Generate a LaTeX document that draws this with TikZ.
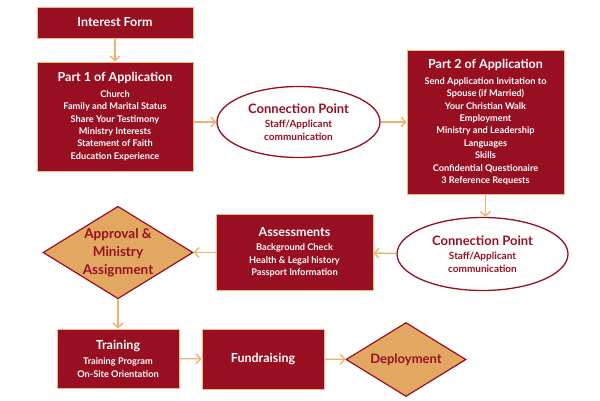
\documentclass[tikz,border=0pt]{standalone}
\usepackage{fontspec}
\setmainfont{Lato}
\usepackage{tikz}
\usetikzlibrary{arrows.meta,shapes.geometric}

\definecolor{appred}{HTML}{990F22}
\definecolor{apprim}{HTML}{F2B77E}
\definecolor{apptan}{HTML}{E2A862}
\definecolor{apparrow}{HTML}{ECB36C}
\newcommand{\boxtitle}[1]{{\fontsize{12.5}{14}\selectfont #1}}

\begin{document}
\begin{tikzpicture}[-,>={Straight Barb[length=4.5pt,width=10pt]},x=1pt,y=-1pt,
  main node/.style={rectangle,fill=appred,draw=apprim,line width=1pt,text=white,
    align=center,inner sep=0pt,font=\bfseries\fontsize{9.2}{12.4}\selectfont},
  link node/.style={ellipse,fill=white,draw=appred,line width=1.3pt,text=appred,
    align=center,inner sep=0pt,font=\bfseries\fontsize{10}{12.7}\selectfont},
  gate node/.style={diamond,aspect=1.6,fill=apptan,draw=appred,line width=1.2pt,text=appred,
    align=center,inner sep=0pt,font=\bfseries\fontsize{13.5}{18}\selectfont}]

  \useasboundingbox (0,0) rectangle (600,400);

  \node[main node,minimum width=156pt,minimum height=31pt] (intro) at (115,22.5)
    {\boxtitle{Interest Form}};
  \node[main node,minimum width=156pt,minimum height=109pt] (part1) at (115,116.5)
    {\boxtitle{Part 1 of Application}\\[3.5pt] Church\\ Family and Marital Status\\
     Share Your Testimony\\ Ministry Interests\\ Statement of Faith\\ Education Experience};
  \node[link node,minimum width=163pt,minimum height=71pt] (link1) at (298.5,122)
    {{\fontsize{13}{15}\selectfont Connection Point}\\[2pt] Staff/Applicant\\ communication};
  \node[main node,minimum width=157pt,minimum height=144pt] (part2) at (485.5,122)
    {\boxtitle{Part 2 of Application}\\[3.5pt] Send Application Invitation to\\
     Spouse (if Married)\\ Your Christian Walk\\ Employment\\ Ministry and Leadership\\
     Languages\\ Skills\\ Confidential Questionaire\\ 3 Reference Requests};
  \node[link node,minimum width=171pt,minimum height=73pt] (link2) at (482.5,254)
    {{\fontsize{13}{15}\selectfont Connection Point}\\[2pt] Staff/Applicant\\ communication};
  \node[main node,minimum width=157pt,minimum height=76pt] (assess) at (294.5,252.5)
    {\boxtitle{Assessments}\\[1.5pt] Background Check\\ Health \& Legal history\\
     Passport Information};
  \node[gate node,minimum width=150pt,minimum height=92pt] (approve) at (118,252.5)
    {Approval \&\\ Ministry\\ Assignment};
  \node[main node,minimum width=122pt,minimum height=59pt] (train) at (118,358.5)
    {\boxtitle{Training}\\[3pt] Training Program\\ On-Site Orientation};
  \node[main node,minimum width=122pt,minimum height=60pt] (fund) at (263,359)
    {\boxtitle{Fundraising}};
  \node[gate node,minimum width=120pt,minimum height=74pt,font=\bfseries\fontsize{13}{15}\selectfont]
    (deploy) at (406,359.5) {Deployment};

  \path[->,color=apparrow,line width=1.4pt]
    (intro) edge (part1)
    (part1.east |- link1.west) edge (link1.west)
    (link1) edge (part2)
    (part2.south) edge (part2.south |- link2.north)
    (link2) edge (assess)
    (assess) edge (approve)
    (approve) edge (train)
    (train) edge (fund)
    (fund) edge (deploy);
\end{tikzpicture}
\end{document}
